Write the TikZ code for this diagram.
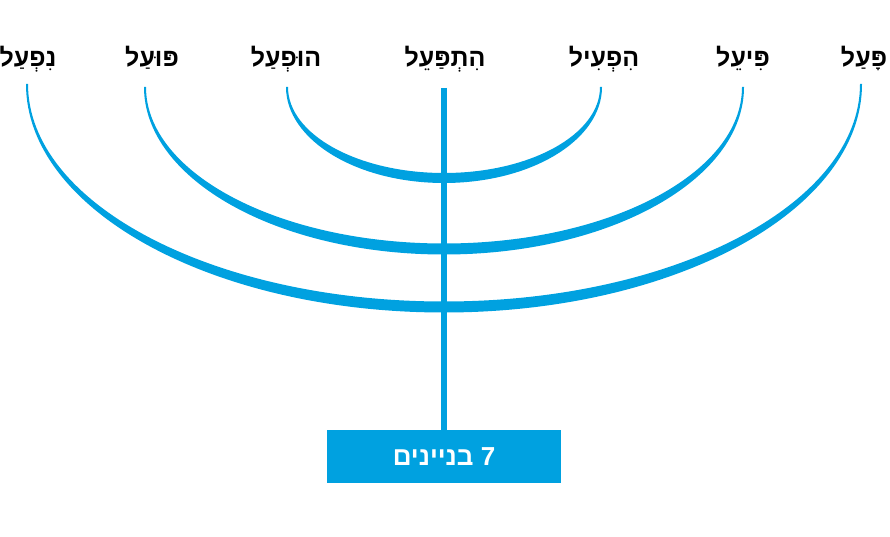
\documentclass[tikz,border=0pt]{standalone}
\usepackage{fontspec}
\usepackage{tikz}
\usetikzlibrary{positioning}
\TeXXeTstate=1
\newfontfamily\hebfont[Script=Hebrew]{Liberation Sans}
\definecolor{menorahblue}{RGB}{0,161,224}

\begin{document}
\begin{tikzpicture}[x=1pt,y=1pt,
		binyan/.style={anchor=base,inner sep=0,
			font=\hebfont\bfseries\fontsize{25}{30}\selectfont},
		armfill/.style={fill=menorahblue}]
		
		\useasboundingbox (0,0) rectangle (890,536);
		
		% Arm ends
		\coordinate (nifal end) at (26,452);
		\coordinate (pual end) at (144,449);
		\coordinate (hufal end) at (286,449);
		\coordinate (stem top) at (444,448);
		\coordinate (hifil end) at (600,449);
		\coordinate (piel end) at (742,449);
		\coordinate (paal end) at (860,452);
		
		% Labels
		\node[binyan] (nifal) at (28,469) {\beginR נִפְעַל\endR};
		\node[binyan] (pual) at (152,469) {\beginR פּוּעַל\endR};
		\node[binyan] (hufal) at (286,469) {\beginR הוּפְעַל\endR};
		\node[binyan] (hitpael) at (445,469) {\beginR הִתְפַּעֵל\endR};
		\node[binyan] (hifil) at (604,469) {\beginR הִפְעִיל\endR};
		\node[binyan] (piel) at (743,469) {\beginR פִּיעֵל\endR};
		\node[binyan] (paal) at (864,469) {\beginR פָּעַל\endR};
		
		% Base block
		\node[fill=menorahblue,
		text=white,
		minimum width=234pt,
		minimum height=53pt,
		font=\hebfont\bfseries\fontsize{26}{30}\selectfont
		] (base) at (444,79.5) {\beginR 7 בניינים\endR};
		
		% Stem
		\draw[menorahblue,line width=6pt] (stem top) -- (base.north);
		
		% Arms
		\fill[armfill] (nifal end)
		arc[start angle=180,end angle=360,x radius=418,y radius=228.5]
		-- ++(-2,0)
		arc[start angle=360,end angle=180,x radius=416,y radius=217.5]
		-- cycle;
		
		\fill[armfill] (pual end)
		arc[start angle=180,end angle=360,x radius=300,y radius=167.5]
		-- ++(-2,0)
		arc[start angle=360,end angle=180,x radius=298,y radius=156.5]
		-- cycle;
		
		\fill[armfill] (hufal end)
		arc[start angle=180,end angle=360,x radius=158,y radius=96]
		-- ++(-2,0)
		arc[start angle=360,end angle=180,x radius=156,y radius=86]
		-- cycle;
		
\end{tikzpicture}
\end{document}
